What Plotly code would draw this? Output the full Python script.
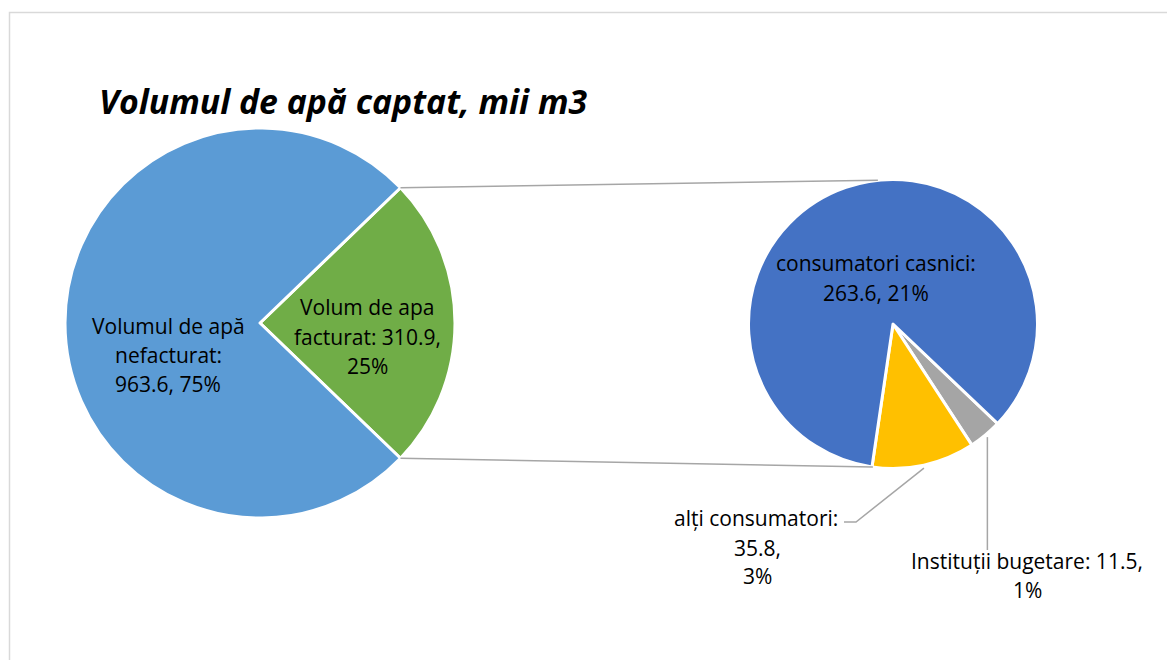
import math
import plotly.graph_objects as go

W, H = 1167, 660

# ---- data ----
main_labels = ["Volum de apa facturat", "Volumul de apă nefacturat"]
main_values = [310.9, 963.6]
main_pcts = ["25%", "75%"]
main_colors = ["#70AD47", "#5B9BD5"]

sub_labels = ["Instituții bugetare", "alți consumatori", "consumatori casnici"]
sub_values = [11.5, 35.8, 263.6]
sub_pcts = ["1%", "3%", "21%"]
sub_colors = ["#A5A5A5", "#FFC000", "#4472C4"]

title_text = "Volumul de apă captat, mii m3"

total = sum(main_values)

# ---- geometry (pixels) ----
C1, R1 = (260, 323), 195
C2, R2 = (893, 324), 144.5
FONT = "Open Sans"


def px(x):
    return x / W


def py(y):
    return 1 - y / H


def pt(c, r, ang):  # ang: degrees clockwise from 12 o'clock
    a = math.radians(ang)
    return c[0] + r * math.sin(a), c[1] - r * math.cos(a)


fac_frac = main_values[0] / total
rot1 = 90 - fac_frac * 180  # green slice centered on 3 o'clock

sub_tot = sum(sub_values)
rot2 = 133.6

fig = go.Figure()
fig.add_trace(go.Pie(
    labels=main_labels, values=main_values, sort=False, direction="clockwise",
    rotation=rot1, textinfo="none", hoverinfo="label+value+percent",
    marker=dict(colors=main_colors, line=dict(color="white", width=3)),
    domain=dict(x=[px(C1[0] - R1), px(C1[0] + R1)], y=[py(C1[1] + R1), py(C1[1] - R1)]),
    showlegend=False,
))
fig.add_trace(go.Pie(
    labels=sub_labels, values=sub_values, sort=False, direction="clockwise",
    rotation=rot2, textinfo="none", hoverinfo="label+value",
    marker=dict(colors=sub_colors, line=dict(color="white", width=3)),
    domain=dict(x=[px(C2[0] - R2), px(C2[0] + R2)], y=[py(C2[1] + R2), py(C2[1] - R2)]),
    showlegend=False,
))

shapes = []
line_col = "#A6A6A6"
# chart border
shapes.append(dict(type="rect", xref="paper", yref="paper", x0=px(9.5), y0=py(12.5), x1=px(1300), y1=py(800),
                   line=dict(color="#D9D9D9", width=1.5)))
# connector lines between pies
a_top = 90 - fac_frac * 180
a_bot = 90 + fac_frac * 180
p1 = pt(C1, R1, a_top)
p2 = pt(C1, R1, a_bot)
q1 = pt(C2, R2, -6)
q2 = pt(C2, R2, 188)
for a, b in [(p1, q1), (p2, q2)]:
    shapes.append(dict(type="line", xref="paper", yref="paper", x0=px(a[0]), y0=py(a[1]), x1=px(b[0]), y1=py(b[1]),
                       line=dict(color=line_col, width=1.5)))

# leader lines for small slices
ang = rot2
mids = []
for v in sub_values:
    span = 360 * v / sub_tot
    mids.append(ang + span / 2)
    ang += span
g = pt(C2, R2, mids[0])
shapes.append(dict(type="line", xref="paper", yref="paper", x0=px(g[0] + 2), y0=py(g[1] + 2), x1=px(g[0] + 2), y1=py(550),
                   line=dict(color=line_col, width=1.5)))
y_ = pt(C2, R2, mids[1])
shapes.append(dict(type="path", xref="paper", yref="paper",
                   path=f"M {px(y_[0])},{py(y_[1] + 3)} L {px(856)},{py(522)} L {px(844)},{py(522)}",
                   line=dict(color=line_col, width=1.5)))

ann = []
fs = 21


def add_lines(lines, x, ys, anchor="center"):
    for t, yy in zip(lines, ys):
        ann.append(dict(text=t, x=px(x), y=py(yy), xref="paper", yref="paper", showarrow=False,
                        xanchor=anchor, yanchor="middle", font=dict(family=FONT, size=fs, color="#000000")))


add_lines(["Volumul de apă", "nefacturat:", f"{main_values[1]}, {main_pcts[1]}"], 168, [326, 355, 384])
add_lines(["Volum de apa", f"facturat: {main_values[0]},", main_pcts[0]], 367, [307, 337, 366])
add_lines([f"{sub_labels[2]}:", f"{sub_values[2]}, {sub_pcts[2]}"], 876, [263, 293])
add_lines([f"{sub_labels[1]}:"], 840, [518], anchor="right")
add_lines([f"{sub_values[1]},", sub_pcts[1]], 757, [548, 576])
add_lines([f"{sub_labels[0]}: {sub_values[0]},", sub_pcts[0]], 1027, [561, 590])

ann.append(dict(text=f"<b><i>{title_text}</i></b>", x=px(97), y=py(101), xref="paper", yref="paper",
                showarrow=False, xanchor="left", yanchor="middle",
                font=dict(family=FONT, size=33.8, color="#000000")))

fig.update_layout(
    width=W, height=H, margin=dict(l=0, r=0, t=0, b=0),
    paper_bgcolor="white", plot_bgcolor="white",
    shapes=shapes, annotations=ann,
)
fig.write_html("out.html", config={"displayModeBar": False},
               post_script="document.body.style.margin='0';document.body.style.overflow='hidden';")
